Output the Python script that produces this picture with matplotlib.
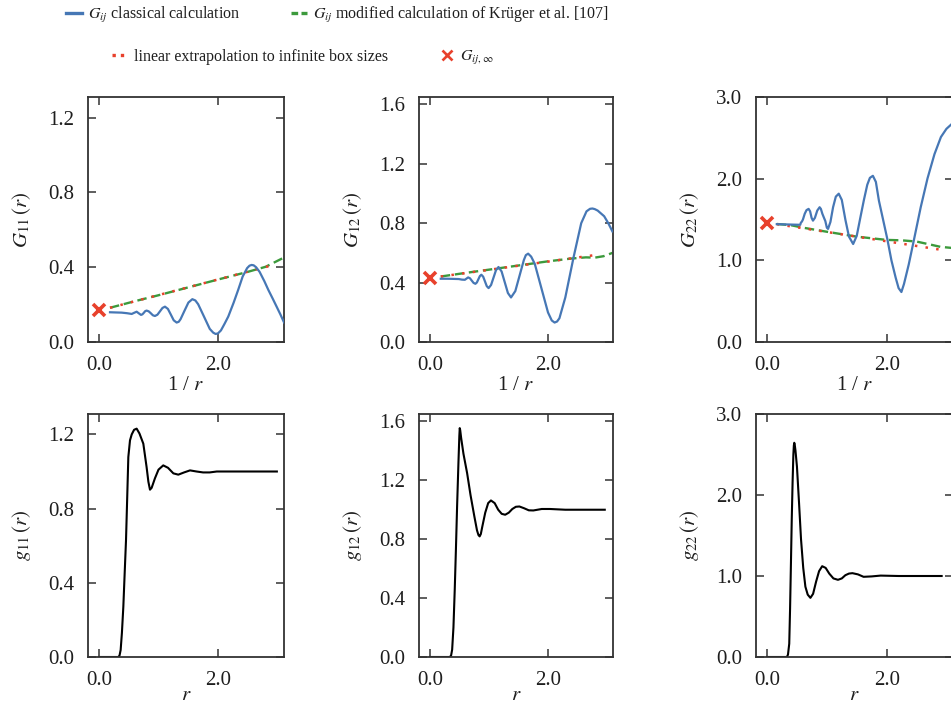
import matplotlib
matplotlib.use("Agg")
import matplotlib.pyplot as plt
from matplotlib.lines import Line2D

plt.rcParams["font.family"] = "serif"
plt.rcParams["font.serif"] = ["Liberation Serif", "DejaVu Serif"]
plt.rcParams["mathtext.fontset"] = "stix"

BLUE = "#4677b5"
GREEN = "#3c9a3c"
RED = "#e8412c"
INK = "#1e1e1e"

# Kirkwood-Buff integrals G_ij over 1/r
g11_x = [0.185, 0.28, 0.38, 0.47, 0.55, 0.59, 0.633, 0.67, 0.706, 0.73, 0.753, 0.777,
         0.80, 0.835, 0.87, 0.905, 0.94, 0.982, 1.025, 1.067, 1.109, 1.158, 1.207,
         1.256, 1.305, 1.34, 1.371, 1.437, 1.503, 1.569, 1.62, 1.667, 1.765, 1.862,
         1.92, 1.96, 2.00, 2.05, 2.11, 2.173, 2.263, 2.34, 2.415, 2.49, 2.53, 2.566,
         2.60, 2.64, 2.70, 2.78, 2.846, 2.92, 2.986, 3.05, 3.11]
g11_y = [0.159, 0.158, 0.157, 0.154, 0.150, 0.156, 0.162, 0.153, 0.145, 0.148, 0.156,
         0.165, 0.168, 0.164, 0.154, 0.143, 0.139, 0.146, 0.164, 0.182, 0.189, 0.177,
         0.147, 0.116, 0.104, 0.108, 0.122, 0.167, 0.211, 0.229, 0.222, 0.202, 0.136,
         0.070, 0.050, 0.043, 0.046, 0.062, 0.097, 0.136, 0.21, 0.279, 0.350, 0.395,
         0.408, 0.412, 0.410, 0.400, 0.375, 0.325, 0.279, 0.232, 0.189, 0.147, 0.105]

g12_x = [0.185, 0.30, 0.40, 0.49, 0.545, 0.594, 0.622, 0.65, 0.681, 0.711, 0.742, 0.773,
         0.798, 0.8235, 0.849, 0.874, 0.905, 0.9355, 0.966, 0.997, 1.039, 1.081, 1.123,
         1.165, 1.218, 1.2715, 1.325, 1.378, 1.451, 1.5235, 1.596, 1.63, 1.669, 1.72,
         1.781, 1.8935, 2.006, 2.07, 2.118, 2.16, 2.20, 2.30, 2.44, 2.57, 2.66, 2.72,
         2.761, 2.80, 2.85, 2.96, 3.03, 3.10]
g12_y = [0.426, 0.426, 0.425, 0.424, 0.420, 0.419, 0.427, 0.435, 0.429, 0.4135, 0.398,
         0.392, 0.401, 0.4225, 0.444, 0.453, 0.440, 0.408, 0.376, 0.363, 0.384, 0.434,
         0.484, 0.505, 0.475, 0.4025, 0.330, 0.300, 0.343, 0.4475, 0.552, 0.585, 0.595,
         0.575, 0.527, 0.363, 0.199, 0.145, 0.131, 0.138, 0.16, 0.30, 0.57, 0.80, 0.88,
         0.897, 0.899, 0.895, 0.885, 0.847, 0.80, 0.745]

g22_x = [0.163, 0.30, 0.45, 0.555, 0.565, 0.583, 0.60, 0.63, 0.66, 0.695, 0.72, 0.745,
         0.768, 0.80, 0.84, 0.879, 0.90, 0.925, 0.947, 0.975, 1.00, 1.02, 1.06, 1.104,
         1.15, 1.199, 1.25, 1.311, 1.37, 1.44, 1.50, 1.563, 1.62, 1.676, 1.72, 1.77,
         1.82, 1.871, 1.94, 2.012, 2.08, 2.151, 2.20, 2.247, 2.29, 2.37, 2.459, 2.57,
         2.684, 2.80, 2.908, 3.0, 3.12]
g22_y = [1.443, 1.440, 1.437, 1.435, 1.46, 1.475, 1.50, 1.57, 1.615, 1.63, 1.60, 1.52,
         1.486, 1.52, 1.61, 1.65, 1.63, 1.57, 1.53, 1.48, 1.40, 1.385, 1.47, 1.65,
         1.78, 1.816, 1.74, 1.494, 1.29, 1.20, 1.30, 1.533, 1.74, 1.925, 2.01, 2.035,
         1.96, 1.73, 1.50, 1.259, 1.00, 0.788, 0.66, 0.612, 0.71, 0.95, 1.259, 1.65,
         2.004, 2.30, 2.51, 2.61, 2.69]

# modified (Krueger) calculation
mod11_x = [0.185, 0.6, 1.0, 1.5, 2.0, 2.5, 2.8, 3.1]
mod11_y = [0.183, 0.218, 0.25, 0.292, 0.334, 0.375, 0.402, 0.45]
mod12_x = [0.185, 0.6, 1.0, 1.5, 2.0, 2.4, 2.65, 2.8, 2.95, 3.1]
mod12_y = [0.441, 0.465, 0.487, 0.515, 0.543, 0.562, 0.57, 0.568, 0.578, 0.60]
mod22_x = [0.163, 0.4, 0.6, 0.8, 1.0, 1.25, 1.5, 1.75, 2.0, 2.25, 2.5, 2.75, 2.9, 3.12]
mod22_y = [1.445, 1.43, 1.40, 1.375, 1.35, 1.32, 1.29, 1.27, 1.25, 1.245, 1.23, 1.19,
           1.165, 1.15]

# linear fits and their intercepts at 1/r -> 0
fit11_x, fit11_y = [0.185, 2.97], [0.183, 0.415]
fit12_x, fit12_y = [0.185, 2.85], [0.441, 0.588]
fit22_x, fit22_y = [0.163, 2.99], [1.443, 1.12]
g_inf = [0.17, 0.43, 1.46]

# radial distribution functions g_ij(r)
rdf11_x = [0, 0.325, 0.345, 0.364, 0.385, 0.409, 0.43, 0.454, 0.475, 0.493, 0.521, 0.55,
           0.59, 0.633, 0.68, 0.745, 0.80, 0.83, 0.857, 0.885, 0.94, 1.0, 1.08, 1.16,
           1.25, 1.333, 1.43, 1.53, 1.64, 1.75, 1.86, 1.98, 2.2, 2.5, 2.8, 2.99]
rdf11_y = [0, 0, 0.008, 0.038, 0.13, 0.271, 0.44, 0.63, 0.87, 1.078, 1.168, 1.20, 1.225,
           1.231, 1.205, 1.15, 1.024, 0.945, 0.902, 0.912, 0.963, 1.01, 1.033, 1.02,
           0.99, 0.983, 0.995, 1.006, 1.0, 0.995, 0.995, 1.0, 1.0, 1.0, 1.0, 1.0]
rdf12_x = [0, 0.338, 0.36, 0.378, 0.40, 0.422, 0.442, 0.462, 0.485, 0.50, 0.507, 0.515,
           0.53, 0.57, 0.632, 0.69, 0.755, 0.80, 0.825, 0.845, 0.865, 0.89, 0.94, 0.99,
           1.037, 1.10, 1.16, 1.22, 1.279, 1.34, 1.40, 1.46, 1.52, 1.60, 1.68, 1.757,
           1.9, 2.04, 2.3, 2.6, 2.97]
rdf12_y = [0, 0, 0.01, 0.05, 0.2, 0.457, 0.73, 1.022, 1.32, 1.50, 1.554, 1.54, 1.49,
           1.38, 1.249, 1.10, 0.955, 0.86, 0.828, 0.819, 0.835, 0.885, 0.98, 1.045,
           1.063, 1.045, 1.0, 0.972, 0.966, 0.98, 1.005, 1.02, 1.022, 1.01, 0.996, 0.995,
           1.005, 1.005, 1.0, 1.0, 1.0]
rdf22_x = [0, 0.332, 0.35, 0.371, 0.385, 0.40, 0.413, 0.427, 0.44, 0.448, 0.455, 0.463,
           0.475, 0.50, 0.535, 0.568, 0.605, 0.641, 0.68, 0.725, 0.77, 0.82, 0.87, 0.922,
           0.98, 1.04, 1.11, 1.186, 1.25, 1.31, 1.37, 1.428, 1.52, 1.614, 1.75, 1.9,
           2.2, 2.6, 2.92]
rdf22_y = [0, 0, 0.03, 0.164, 0.6, 1.18, 1.7, 2.157, 2.5, 2.61, 2.645, 2.62, 2.55, 2.35,
           1.9, 1.454, 1.10, 0.868, 0.77, 0.73, 0.78, 0.93, 1.06, 1.121, 1.10, 1.03,
           0.97, 0.953, 0.97, 1.01, 1.03, 1.035, 1.02, 0.99, 0.995, 1.005, 1.0, 1.0, 1.0]

pair_names = ["11", "12", "22"]
ylims = [1.31, 1.65, 3.0]
yticks = [[0, 0.4, 0.8, 1.2], [0, 0.4, 0.8, 1.2, 1.6], [0, 1.0, 2.0, 3.0]]
xticks = [0, 2.0]

G_curves = [(g11_x, g11_y), (g12_x, g12_y), (g22_x, g22_y)]
mod_curves = [(mod11_x, mod11_y), (mod12_x, mod12_y), (mod22_x, mod22_y)]
fit_lines = [(fit11_x, fit11_y), (fit12_x, fit12_y), (fit22_x, fit22_y)]
rdf_curves = [(rdf11_x, rdf11_y), (rdf12_x, rdf12_y), (rdf22_x, rdf22_y)]

W, H = 951, 704
fig = plt.figure(figsize=(W / 100, H / 100), dpi=100)

col_left = [88, 419, 756]
col_width = [196, 194, 197]
row_top = [97, 414]
row_height = [245, 243]


def make_axes(row, col):
    left = col_left[col] / W
    bottom = 1 - (row_top[row] + row_height[row]) / H
    return fig.add_axes([left, bottom, col_width[col] / W, row_height[row] / H])


def style_axes(ax, col):
    ax.set_xlim(-0.185, 3.11)
    ax.set_ylim(0, ylims[col])
    ax.set_xticks(xticks)
    ax.set_xticklabels(["%.1f" % t for t in xticks])
    ax.set_yticks(yticks[col])
    ax.set_yticklabels(["%.1f" % t for t in yticks[col]])
    ax.tick_params(direction="in", length=6, width=1.1, color="#333333",
                   top=True, right=True, labelsize=15, pad=10, labelcolor=INK)
    for sp in ax.spines.values():
        sp.set_linewidth(1.3)
        sp.set_color("#333333")


for col in range(3):
    ax = make_axes(0, col)
    fx, fy = fit_lines[col]
    ax.plot(fx, fy, color=RED, lw=1.8, linestyle=(0, (1, 3.3)), zorder=3)
    mx, my = mod_curves[col]
    ax.plot(mx, my, color=GREEN, lw=1.7, linestyle=(0, (4, 2)), zorder=2)
    gx, gy = G_curves[col]
    ax.plot(gx, gy, color=BLUE, lw=1.6, zorder=4)
    ax.plot([0.0], [g_inf[col]], linestyle="none", marker="x", color=RED,
            markersize=8, markeredgewidth=2.6, zorder=5)
    style_axes(ax, col)
    ax.set_xlabel("1 / $r$", fontsize=15, labelpad=1, color=INK)
    ax.set_ylabel(r"$G_{%s}\,(r)$" % pair_names[col], fontsize=15, labelpad=11,
                  color=INK)

    ax2 = make_axes(1, col)
    rx, ry = rdf_curves[col]
    ax2.plot(rx, ry, color="black", lw=1.5)
    style_axes(ax2, col)
    ax2.set_xlabel("$r$", fontsize=15, labelpad=-3, color=INK)
    ax2.set_ylabel(r"$g_{%s}\,(r)$" % pair_names[col], fontsize=15, labelpad=11,
                   color=INK)

# legend: two rows of two entries above the panels
fs = 11.5
rows = [
    ([Line2D([], [], color=BLUE, lw=2.4),
      Line2D([], [], color=GREEN, lw=2.4, linestyle=(0, (2, 1)))],
     [r"$G_{ij}$ classical calculation",
      r"$G_{ij}$ modified calculation of Krüger et al. [107]"], 66, 15),
    ([Line2D([], [], color=RED, lw=2.4, linestyle=(0, (1, 1.5))),
      Line2D([], [], color=RED, linestyle="none", marker="x", markersize=6.5,
             markeredgewidth=1.9)],
     ["linear extrapolation to infinite box sizes", r"$G_{ij,\infty}$"], 112, 58),
]
for handles, labels, x_px, y_px in rows:
    fig.legend(handles=handles, labels=labels, ncol=2, loc="center left",
               bbox_to_anchor=(x_px / W, 1 - y_px / H), frameon=False,
               fontsize=fs, borderpad=0, borderaxespad=0, handlelength=1.0,
               handletextpad=0.35, columnspacing=3.2, numpoints=1,
               labelcolor=INK)

fig.savefig("out.png", dpi=100)
